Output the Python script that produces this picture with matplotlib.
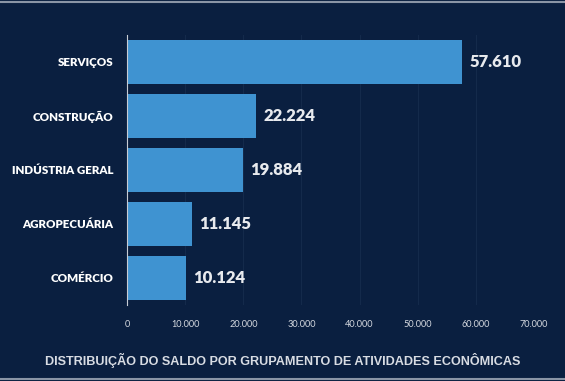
import matplotlib
matplotlib.use("Agg")
import matplotlib.pyplot as plt
from matplotlib.lines import Line2D
from matplotlib.ticker import FuncFormatter

# data
categories = ["SERVIÇOS", "CONSTRUÇÃO", "INDÚSTRIA GERAL", "AGROPECUÁRIA", "COMÉRCIO"]
saldo = [57610, 22224, 19884, 11145, 10124]
x_ticks = [0, 10000, 20000, 30000, 40000, 50000, 60000, 70000]
title = "DISTRIBUIÇÃO DO SALDO POR GRUPAMENTO DE ATIVIDADES ECONÔMICAS"

bg = "#0a1f40"
bar_color = "#3f93d1"
text_color = "#e8eaee"


def fmt_br(v, pos=None):
    return f"{int(v):,}".replace(",", ".")


fig = plt.figure(figsize=(5.65, 3.81), dpi=100, facecolor=bg)
ax = fig.add_axes([0.2248, 0.1995, 0.7204, 0.7087], facecolor=bg)

ypos = list(range(len(categories)))
ax.barh(ypos, saldo, height=0.8, color=bar_color, zorder=3)

for y, v in zip(ypos, saldo):
    ax.text(v + 1300, y, fmt_br(v), va="center", ha="left",
            fontsize=12, fontweight="heavy", color=text_color, family="Lato")

ax.set_xlim(0, 70000)
ax.set_ylim(len(categories) - 0.5, -0.5)
ax.set_xticks(x_ticks)
ax.xaxis.set_major_formatter(FuncFormatter(fmt_br))
ax.set_yticks(ypos)
ax.set_yticklabels(categories)

ax.tick_params(axis="x", length=0, pad=11, labelsize=6.6, labelcolor="#d5d9e0")
ax.tick_params(axis="y", length=0, pad=10, labelsize=8.3, labelcolor="white")
for lbl in ax.get_yticklabels():
    lbl.set_fontweight("heavy")
    lbl.set_family("Lato")
for lbl in ax.get_xticklabels():
    lbl.set_family("Lato")

ax.grid(axis="x", color="#142a4b", linewidth=0.8, zorder=0)
for side in ["top", "right", "bottom"]:
    ax.spines[side].set_visible(False)
ax.spines["left"].set_color("#c8ccd4")
ax.spines["left"].set_linewidth(0.8)
ax.spines["left"].set_zorder(4)

fig.text(0.5, 1 - 360 / 381, title, ha="center", va="center",
         fontsize=9.1, fontweight="bold", color="#d8dce3", family="Liberation Sans")

# thin frame lines top and bottom
fig.add_artist(Line2D([0, 1], [0.996, 0.996], color="#8a95a6", linewidth=1.5,
                      transform=fig.transFigure))
fig.add_artist(Line2D([0, 1], [0.006, 0.006], color="#8a95a6", linewidth=1.5,
                      transform=fig.transFigure))

fig.savefig("out.png", dpi=100, facecolor=bg)
